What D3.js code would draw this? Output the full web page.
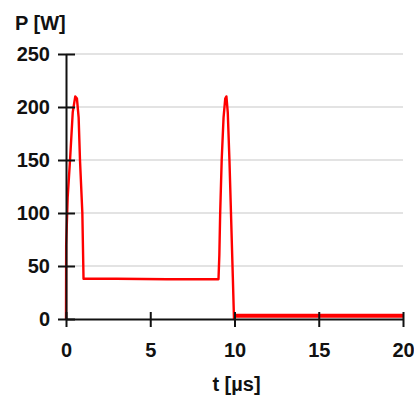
<!DOCTYPE html>
<html>
<head>
<meta charset="utf-8">
<script src="https://cdn.jsdelivr.net/npm/d3@7"></script>
<style>
  body { margin: 0; background: #fff; }
  text { font-family: "Liberation Sans", Arial, sans-serif; font-weight: bold; fill: #111; }
</style>
</head>
<body>
<div id="chart"></div>
<script>
// power trace
var tVals = [0, 0.01, 0.1, 0.24, 0.4, 0.55, 0.65, 0.75, 0.83, 0.97, 1.04, 3, 6, 9.05,
             9.1, 9.15, 9.24, 9.35, 9.45, 9.52, 9.6, 9.7, 9.8, 9.9, 9.97, 10.0];
var pVals = [0, 70, 115, 150, 195, 210, 208, 190, 150, 100, 38, 38, 37.5, 37.5,
             60, 100, 150, 190, 208, 210, 195, 150, 95, 40, 0, 0];
// low tail after the second pulse
var tailT = [10, 20];
var tailP = [3, 3];

var xTicks = [0, 5, 10, 15, 20];
var yTicks = [0, 50, 100, 150, 200, 250];

var margin = {top: 54, right: 11, bottom: 82, left: 66},
  width = 414 - margin.left - margin.right,
  height = 401 - margin.top - margin.bottom;

var svg = d3.select("#chart")
  .append("svg")
    .attr("width", 414)
    .attr("height", 401)
  .append("g")
    .attr("transform", "translate(" + margin.left + "," + margin.top + ")");

var x = d3.scaleLinear().domain([0, 20]).range([0, width]);
var y = d3.scaleLinear().domain([0, 250]).range([height, 0]);

// gridlines
svg.selectAll(".grid")
  .data(yTicks.filter(function(d) { return d > 0; }))
  .enter().append("line")
    .attr("x1", 0).attr("x2", width)
    .attr("y1", function(d) { return y(d); })
    .attr("y2", function(d) { return y(d); })
    .attr("stroke", "#c8c8c8")
    .attr("stroke-width", 1.2);

// trace
var line = d3.line()
  .x(function(d) { return x(d[0]); })
  .y(function(d) { return y(d[1]); });

svg.append("path")
  .datum(d3.zip(tVals, pVals))
  .attr("d", line)
  .attr("fill", "none")
  .attr("stroke", "#ff0000")
  .attr("stroke-width", 2.4)
  .attr("stroke-linejoin", "round");

svg.append("path")
  .datum(d3.zip(tailT, tailP))
  .attr("d", line)
  .attr("fill", "none")
  .attr("stroke", "#ff0000")
  .attr("stroke-width", 4);

// axes
var xAxis = svg.append("g")
  .attr("transform", "translate(0," + height + ")")
  .call(d3.axisBottom(x).tickValues(xTicks).tickSize(8).tickPadding(16).tickSizeOuter(0));
xAxis.selectAll(".tick line").attr("y1", -7);

var yAxis = svg.append("g")
  .call(d3.axisLeft(y).tickValues(yTicks).tickSize(8).tickPadding(8).tickSizeOuter(0));
yAxis.selectAll(".tick line").attr("x1", 9);

svg.selectAll(".domain").attr("stroke", "#111").attr("stroke-width", 2);
svg.selectAll(".tick line").attr("stroke", "#111").attr("stroke-width", 2);
svg.selectAll(".tick text").style("font-size", "20px").style("fill", "#111");

// titles
svg.append("text")
  .attr("x", -51)
  .attr("y", -24)
  .style("font-size", "20px")
  .text("P [W]");

svg.append("text")
  .attr("x", width / 2 + 2)
  .attr("y", height + 72)
  .attr("text-anchor", "middle")
  .style("font-size", "20px")
  .text("t [µs]");
</script>
</body>
</html>
